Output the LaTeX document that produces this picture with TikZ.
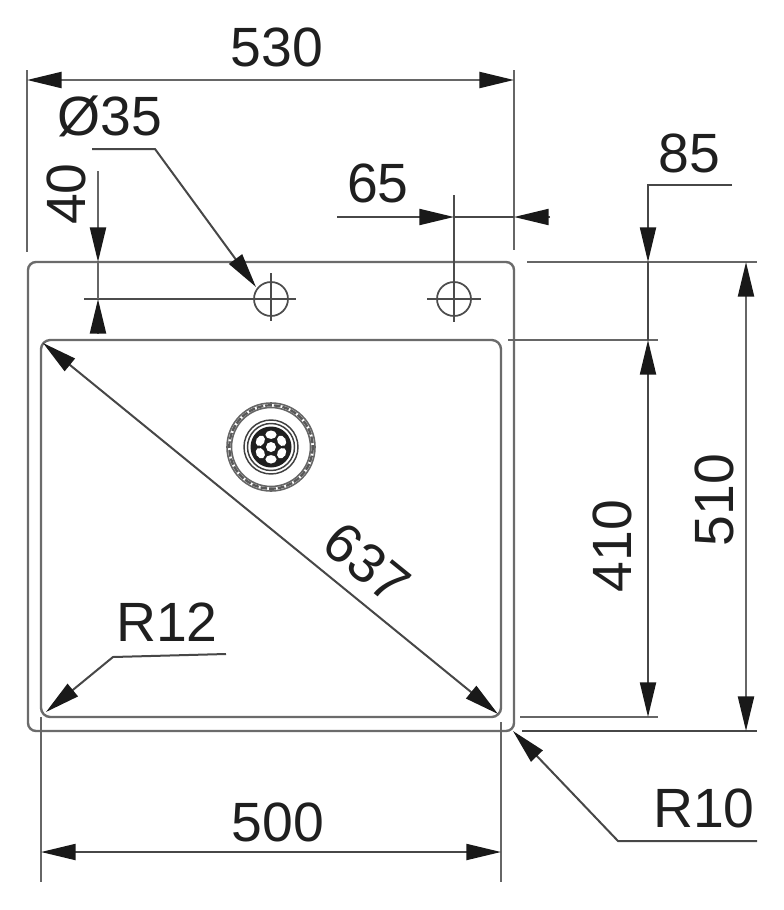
\documentclass[tikz,border=0pt]{standalone}
\usepackage{fontspec}
\setmainfont{Liberation Sans}
\usetikzlibrary{arrows.meta}
\definecolor{dimgray}{gray}{0.4}
\definecolor{outlinegray}{gray}{0.42}
\definecolor{tipblack}{gray}{0.1}
\tikzset{
  dimline/.style={draw=dimgray,line width=1.7pt},
  leaderline/.style={draw=black!72,line width=1.5pt},
  edgeline/.style={draw=outlinegray,line width=1.8pt},
  thinmark/.style={draw=black!70,line width=1.3pt},
  tipend/.style={-{Triangle[length=26pt,width=12pt,color=tipblack]}},
  tipboth/.style={{Triangle[length=26pt,width=12pt,color=tipblack]}-{Triangle[length=26pt,width=12pt,color=tipblack]}},
  dimtext/.style={font=\fontsize{41.5}{41.5}\selectfont,text=black!88,inner sep=0pt},
}
\begin{document}
\begin{tikzpicture}[x=0.75pt,y=-0.75pt]
\useasboundingbox (0,0) rectangle (783,910);
% sink outline
\draw[edgeline,rounded corners=6pt] (28,262) rectangle (514,731);
\draw[edgeline,rounded corners=7pt] (41,340) rectangle (501,717);
% tap holes
\coordinate (holeA) at (271,299);
\coordinate (holeB) at (454,299);
\node[circle,draw=black!70,line width=1.3pt,minimum size=25.5pt,inner sep=0pt] (hA) at (holeA) {};
\node[circle,draw=black!70,line width=1.3pt,minimum size=25.5pt,inner sep=0pt] (hB) at (holeB) {};
\coordinate (hAtop) at (271,273);
\coordinate (hAbot) at (271,321);
\coordinate (hAleft) at (84,299);
\coordinate (hAright) at (296,299);
\coordinate (hBtop) at (454,195);
\coordinate (hBbot) at (454,322);
\coordinate (hBleft) at (427,299);
\coordinate (hBright) at (481,299);
\draw[thinmark] (hAtop) -- (hAbot);
\draw[thinmark] (hAleft) -- (hAright);
\draw[thinmark] (hBtop) -- (hBbot);
\draw[thinmark] (hBleft) -- (hBright);
% drain
\coordinate (drain) at (271,447);
\draw[draw=black!60,line width=1.2pt] (drain) circle[radius=44];
\draw[draw=black!60,line width=1.2pt] (drain) circle[radius=39.5];
\draw[draw=black!65,line width=1.8pt,dash pattern=on 5pt off 1.5pt] (drain) circle[radius=41.7];
\draw[draw=black!75,line width=1.1pt] (drain) circle[radius=27];
\draw[draw=black!75,line width=1.1pt] (drain) circle[radius=23.5];
\fill[black!88] (drain) circle[radius=20.5];
\foreach \a in {30,90,150,210,270,330}{
  \fill[white,rotate around={\a:(drain)}] (drain) ++(12.3,0) ellipse[x radius=4.2,y radius=5.6];
}
\fill[white] (drain) circle[radius=5];
% extension lines
\draw[dimline] (27,70) -- (27,252);
\draw[dimline] (514,70) -- (514,250);
\draw[dimline] (527,262) -- (757,262);
\draw[dimline] (508,340) -- (658,340);
\draw[dimline] (520,717) -- (658,717);
\draw[leaderline] (522,731) -- (757,731);
\draw[dimline] (41,717) -- (41,882);
\draw[dimline] (501,722) -- (501,882);
% 530
\coordinate (a1) at (27,80);
\coordinate (a2) at (514,80);
\draw[dimline,tipboth] (a1) -- (a2);
% 500
\coordinate (b1) at (41,852);
\coordinate (b2) at (501,852);
\draw[leaderline,tipboth] (b1) -- (b2);
% 40
\coordinate (c1) at (98,171);
\coordinate (c2) at (98,262);
\coordinate (c3) at (98,333);
\coordinate (c4) at (98,299);
\draw[dimline,tipend] (c1) -- (c2);
\draw[dimline,tipend] (c3) -- (c4);
\draw[dimline] (c2) -- (c4);
% 65
\coordinate (d1) at (337,217);
\coordinate (d2) at (454,217);
\coordinate (d3) at (550,217);
\coordinate (d4) at (514,217);
\draw[leaderline,tipend] (d1) -- (d2);
\draw[leaderline] (d2) -- (d4);
\draw[leaderline,tipend] (d3) -- (d4);
% 85 and 410
\coordinate (e0) at (732,185);
\coordinate (e1) at (648,185);
\coordinate (e2) at (648,262);
\coordinate (e3) at (648,340);
\coordinate (e4) at (648,717);
\draw[leaderline,tipend] (e0) -- (e1) -- (e2);
\draw[leaderline] (e2) -- (e3);
\draw[leaderline,tipboth] (e3) -- (e4);
% 510
\coordinate (f1) at (746,262);
\coordinate (f2) at (746,731);
\draw[dimline,tipboth] (f1) -- (f2);
% 637
\coordinate (g1) at (43,343);
\coordinate (g2) at (498,714);
\draw[leaderline,tipboth] (g1) -- (g2);
% leaders
\coordinate (h0) at (92,149);
\coordinate (h1) at (155,149);
\coordinate (h2) at (256,287);
\draw[leaderline,tipend] (h0) -- (h1) -- (h2);
\coordinate (i0) at (226,654);
\coordinate (i1) at (113,657);
\coordinate (i2) at (46,712);
\draw[leaderline,tipend] (i0) -- (i1) -- (i2);
\coordinate (j0) at (757,841);
\coordinate (j1) at (618,841);
\coordinate (j2) at (513,731);
\draw[leaderline,tipend] (j0) -- (j1) -- (j2);
% labels
\node[dimtext] (t530) at (277,47) {530};
\node[dimtext] (t35) at (110,116) {Ø35};
\node[dimtext,rotate=90] (t40) at (66,194) {40};
\node[dimtext] (t65) at (378,183) {65};
\node[dimtext] (t85) at (689,153) {85};
\node[dimtext,rotate=90] (t410) at (612,546) {410};
\node[dimtext,rotate=90] (t510) at (714,500) {510};
\node[dimtext,rotate=-39] (t637) at (367,563) {637};
\node[dimtext] (tR12) at (167,622) {R12};
\node[dimtext] (tR10) at (704,808) {R10};
\node[dimtext] (t500) at (278,822) {500};
\end{tikzpicture}
\end{document}
